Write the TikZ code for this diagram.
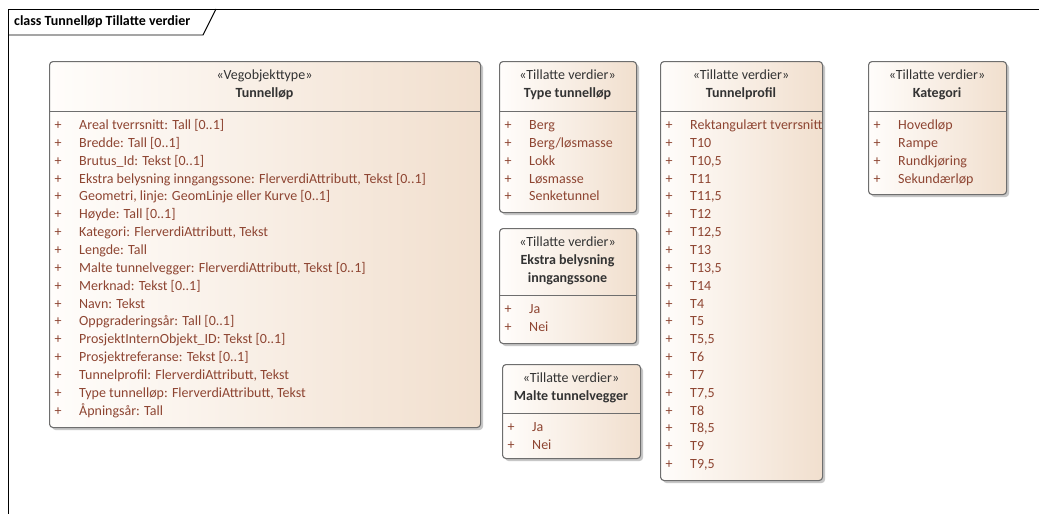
\documentclass[tikz,border=0pt]{standalone}
\usepackage{fontspec}
\setmainfont{Carlito}
\usetikzlibrary{shadows}
\definecolor{boxR}{HTML}{F1DFCE}
\definecolor{boxL}{HTML}{FFFDFB}
\definecolor{edgec}{HTML}{6E6E6E}
\definecolor{attrc}{HTML}{8E4532}
\definecolor{headc}{HTML}{333333}
\newcommand\umlitems[4]{%
  \foreach \t [count=\i from 0] in {#4} {
    \node[plusst] (#1p\i) at ({#2+9},{#3+17.85*\i}) {+};
    \node[itemst] (#1a\i) at ({#2+30},{#3+17.85*\i}) {\t};
  }}
\begin{document}
\begin{tikzpicture}[x=1pt,y=-1pt,
  font=\fontsize{14}{16}\selectfont,
  classbox/.style={draw=edgec, line width=1.1pt, rounded corners=3.5pt,
    left color=boxL, right color=boxR, inner sep=0pt, anchor=north west,
    drop shadow={shadow xshift=2.5pt, shadow yshift=-2.5pt, fill=black!40, opacity=0.55}},
  divider/.style={draw=edgec, line width=1pt},
  stereost/.style={text=headc, inner sep=0pt, text height=10pt, text depth=3pt},
  namest/.style={text=headc, inner sep=0pt, font=\fontsize{14}{16}\selectfont\bfseries, text height=10pt, text depth=3pt},
  itemst/.style={text=attrc, inner sep=0pt, anchor=west, text height=10pt, text depth=3pt},
  plusst/.style={text=attrc, inner sep=0pt, text height=10pt, text depth=3pt},
  framest/.style={draw=black, line width=0.9pt}]
\useasboundingbox (0,0) rectangle (1039,514);
\fill[white] (0,0) rectangle (1039,514);

% frame
\draw[framest] (8,514) -- (8,9) -- (1039,9);
\draw[framest] (8,35) -- (203,35) -- (216,9);
\node[anchor=west, inner sep=0pt, font=\fontsize{14}{16}\selectfont\bfseries, text height=10pt, text depth=3pt] (title) at (14,22) {class Tunnelløp Tillatte verdier};

% Tunnelløp
\node[classbox, minimum width=431pt, minimum height=366pt] (tun) at (49,61) {};
\node[stereost] (tun-s) at (264.5,76) {«Vegobjekttype»};
\node[namest] (tun-n) at (264.5,94) {Tunnelløp};
\draw[divider] (49,111) -- (480,111);
\umlitems{tun}{49}{126}{{Areal tverrsnitt: Tall [0..1]},{Bredde: Tall [0..1]},{Brutus\_Id: Tekst [0..1]},{Ekstra belysning inngangssone: FlerverdiAttributt, Tekst [0..1]},{Geometri, linje: GeomLinje eller Kurve [0..1]},{Høyde: Tall [0..1]},{Kategori: FlerverdiAttributt, Tekst},{Lengde: Tall},{Malte tunnelvegger: FlerverdiAttributt, Tekst [0..1]},{Merknad: Tekst [0..1]},{Navn: Tekst},{Oppgraderingsår: Tall [0..1]},{ProsjektInternObjekt\_ID: Tekst [0..1]},{Prosjektreferanse: Tekst [0..1]},{Tunnelprofil: FlerverdiAttributt, Tekst},{Type tunnelløp: FlerverdiAttributt, Tekst},{Åpningsår: Tall}}

% Type tunnelløp
\node[classbox, minimum width=137pt, minimum height=151pt] (typ) at (499,61) {};
\node[stereost] (typ-s) at (567.5,76) {«Tillatte verdier»};
\node[namest] (typ-n) at (567.5,94) {Type tunnelløp};
\draw[divider] (499,111) -- (636,111);
\umlitems{typ}{499}{126}{{Berg},{Berg/løsmasse},{Lokk},{Løsmasse},{Senketunnel}}

% Ekstra belysning inngangssone
\node[classbox, minimum width=137pt, minimum height=115pt] (eks) at (499,228) {};
\node[stereost] (eks-s) at (567.5,243) {«Tillatte verdier»};
\node[namest] (eks-n1) at (567.5,261) {Ekstra belysning};
\node[namest] (eks-n2) at (567.5,279) {inngangssone};
\draw[divider] (499,295) -- (636,295);
\umlitems{eks}{499}{310}{{Ja},{Nei}}

% Malte tunnelvegger
\node[classbox, minimum width=138pt, minimum height=94pt] (mal) at (502,364) {};
\node[stereost] (mal-s) at (571,379) {«Tillatte verdier»};
\node[namest] (mal-n) at (571,397) {Malte tunnelvegger};
\draw[divider] (502,413) -- (640,413);
\umlitems{mal}{502}{428}{{Ja},{Nei}}

% Tunnelprofil
\node[classbox, minimum width=162pt, minimum height=419pt] (pro) at (660,61) {};
\node[stereost] (pro-s) at (741,76) {«Tillatte verdier»};
\node[namest] (pro-n) at (741,94) {Tunnelprofil};
\draw[divider] (660,111) -- (822,111);
\umlitems{pro}{660}{126}{{Rektangulært tverrsnitt},{T10},{T10,5},{T11},{T11,5},{T12},{T12,5},{T13},{T13,5},{T14},{T4},{T5},{T5,5},{T6},{T7},{T7,5},{T8},{T8,5},{T9},{T9,5}}

% Kategori
\node[classbox, minimum width=138pt, minimum height=133pt] (kat) at (868,61) {};
\node[stereost] (kat-s) at (937,76) {«Tillatte verdier»};
\node[namest] (kat-n) at (937,94) {Kategori};
\draw[divider] (868,111) -- (1006,111);
\umlitems{kat}{868}{126}{{Hovedløp},{Rampe},{Rundkjøring},{Sekundærløp}}
\end{tikzpicture}
\end{document}
